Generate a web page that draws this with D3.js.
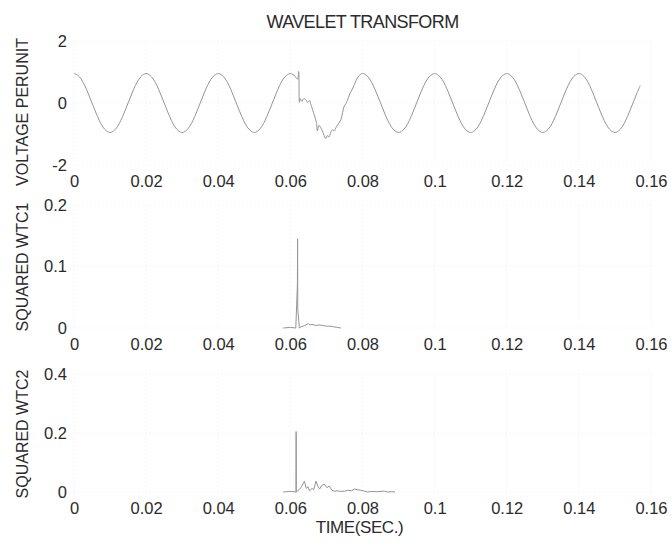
<!DOCTYPE html>
<html>
<head>
<meta charset="utf-8">
<script src="https://cdn.jsdelivr.net/npm/d3@7"></script>
<style>
body { margin: 0; background: #fff; }
text { font-family: "Liberation Sans", Arial, sans-serif; fill: #2b2b2b; }
</style>
</head>
<body>
<svg width="671" height="543"></svg>
<script>
// x ticks in milliseconds, labelled in seconds
var timeTicks = [0, 20, 40, 60, 80, 100, 120, 140, 160];
var timeTickLabels = ['0', '0.02', '0.04', '0.06', '0.08', '0.1', '0.12', '0.14', '0.16'];

var voltTicks = [-2, 0, 2];
var wtc1Ticks = [0, 0.1, 0.2];
var wtc2Ticks = [0, 0.2, 0.4];

// voltage sampled every 1 ms, 0..62 ms (before the disturbance)
var voltBefore = [
    0.95, 0.90, 0.77, 0.56, 0.29, 0.00, -0.29, -0.56, -0.77, -0.90, -0.95, -0.90, -0.77, -0.56, -0.29, 0.00, 0.29, 0.56, 0.77, 0.90,
    0.95, 0.90, 0.77, 0.56, 0.29, 0.00, -0.29, -0.56, -0.77, -0.90, -0.95, -0.90, -0.77, -0.56, -0.29, 0.00, 0.29, 0.56, 0.77, 0.90,
    0.95, 0.90, 0.77, 0.56, 0.29, 0.00, -0.29, -0.56, -0.77, -0.90, -0.95, -0.90, -0.77, -0.56, -0.29, 0.00, 0.29, 0.56, 0.77, 0.90,
    0.95, 0.90, 0.77
];
// disturbance, read point by point (ms, per unit)
var disturbTime = [62.3, 62.5, 62.7, 63.2, 63.7, 64.3, 64.8, 65.3, 65.7, 66.6, 67.2, 67.5, 67.9, 68.5, 69.2, 69.8, 70.3, 70.7,
    71.2, 71.7, 72.2, 72.6, 73.3, 74.0, 74.5, 74.9, 75.4, 75.8, 76.5, 77.2, 78.2, 79.0];
var disturbVolt = [1.02, 0.02, 0.15, 0.05, 0.14, 0.10, 0.02, 0.08, -0.05, -0.38, -0.62, -0.90, -0.72, -0.81, -1.00, -1.15, -1.05, -1.10,
    -0.95, -0.86, -0.90, -0.80, -0.68, -0.54, -0.30, -0.11, -0.02, 0.08, 0.30, 0.45, 0.72, 0.88];
// voltage sampled every 1 ms, 80..157 ms (after the disturbance)
var voltAfter = [
    0.95, 0.90, 0.77, 0.56, 0.29, 0.00, -0.29, -0.56, -0.77, -0.90, -0.95, -0.90, -0.77, -0.56, -0.29, 0.00, 0.29, 0.56, 0.77, 0.90,
    0.95, 0.90, 0.77, 0.56, 0.29, 0.00, -0.29, -0.56, -0.77, -0.90, -0.95, -0.90, -0.77, -0.56, -0.29, 0.00, 0.29, 0.56, 0.77, 0.90,
    0.95, 0.90, 0.77, 0.56, 0.29, 0.00, -0.29, -0.56, -0.77, -0.90, -0.95, -0.90, -0.77, -0.56, -0.29, 0.00, 0.29, 0.56, 0.77, 0.90,
    0.95, 0.90, 0.77, 0.56, 0.29, 0.00, -0.29, -0.56, -0.77, -0.90, -0.95, -0.90, -0.77, -0.56, -0.29, 0.00, 0.29, 0.56
];

// squared wavelet coefficients, level 1 (only the non-zero stretch)
var wtc1Time = [58, 60, 61.5, 61.95, 62.0, 62.05, 62.5, 63, 64, 64.6, 65, 65.5, 66, 67, 68, 69, 70, 71, 72, 73, 74];
var wtc1Value = [0, 0.001, 0, 0.07, 0.145, 0.03, 0, 0.002, 0.004, 0.006, 0.007, 0.005, 0.006, 0.004, 0.005, 0.004, 0.003, 0.003, 0.002, 0.001, 0];

// squared wavelet coefficients, level 2
var wtc2Time = [58, 60, 61, 61.55, 61.6, 61.65, 62, 62.6, 63.2, 63.9, 64.4, 64.9, 65.3, 66, 66.5, 67.1, 67.6, 68.1, 68.7, 69.4,
    70.1, 70.8, 71.5, 72.2, 73, 74, 75, 76, 77, 77.7, 78.5, 79.5, 80.5, 81.4, 82.5, 84, 86, 87, 88, 89];
var wtc2Value = [0, 0.002, 0.001, 0, 0.205, 0, 0.004, 0.01, 0.02, 0.037, 0.012, 0.018, 0.004, 0.012, 0.008, 0.037, 0.02, 0.01, 0.022, 0.027,
    0.015, 0.02, 0.006, 0.003, 0.004, 0.002, 0.003, 0.006, 0.004, 0.01, 0.008, 0.006, 0.003, 0, 0.002, 0.001, 0.003, 0, 0.001, 0];

var svg = d3.select('svg');

var x = d3.scaleLinear().domain([0, 160]).range([74, 651]);

var panels = [
    { top: 41, bottom: 165, domain: [-2, 2], ticks: voltTicks, label: 'VOLTAGE PERUNIT', labelY: 112 },
    { top: 205, bottom: 328, domain: [0, 0.2], ticks: wtc1Ticks, label: 'SQUARED WTC1', labelY: 267 },
    { top: 374, bottom: 492, domain: [0, 0.4], ticks: wtc2Ticks, label: 'SQUARED WTC2', labelY: 434 }
];

// build point lists
var voltPts = [];
voltBefore.forEach(function(v, i) { voltPts.push([i, v]); });
disturbTime.forEach(function(t, i) { voltPts.push([t, disturbVolt[i]]); });
voltAfter.forEach(function(v, i) { voltPts.push([80 + i, v]); });

var wtc1Pts = wtc1Time.map(function(t, i) { return [t, wtc1Value[i]]; });
var wtc2Pts = wtc2Time.map(function(t, i) { return [t, wtc2Value[i]]; });

var series = [voltPts, wtc1Pts, wtc2Pts];

panels.forEach(function(p, k) {
    var y = d3.scaleLinear().domain(p.domain).range([p.bottom, p.top]);
    var g = svg.append('g');

    // dotted grid, almost washed out like the scan
    g.selectAll('.vg').data(timeTicks).enter().append('line')
        .attr('x1', d => x(d)).attr('x2', d => x(d))
        .attr('y1', p.top).attr('y2', p.bottom)
        .attr('stroke', '#ededed').attr('stroke-dasharray', '1,3');
    g.selectAll('.hg').data(p.ticks).enter().append('line')
        .attr('x1', x(0)).attr('x2', x(160))
        .attr('y1', d => y(d)).attr('y2', d => y(d))
        .attr('stroke', '#ededed').attr('stroke-dasharray', '1,3');

    var yAxis = g.append('g')
        .attr('transform', 'translate(' + x(0) + ',0)')
        .call(d3.axisLeft(y).tickValues(p.ticks).tickSize(0).tickPadding(7)
            .tickFormat(function(d) { return String(d); }));
    var xAxis = g.append('g')
        .attr('transform', 'translate(0,' + p.bottom + ')')
        .call(d3.axisBottom(x).tickValues(timeTicks).tickSize(0).tickPadding(10)
            .tickFormat(function(d, i) { return timeTickLabels[i]; }));
    [yAxis, xAxis].forEach(function(a) {
        a.select('.domain').remove();
        a.selectAll('text').style('font-size', '16.5px').style('fill', '#2b2b2b')
            .style('font-family', '"Liberation Sans", Arial, sans-serif');
    });

    svg.append('text')
        .attr('transform', 'translate(22,' + p.labelY + ') rotate(-90)')
        .attr('text-anchor', 'middle')
        .attr('dy', '0.35em')
        .style('font-size', '16px')
        .text(p.label);

    var line = d3.line()
        .x(d => x(d[0]))
        .y(d => y(d[1]))
        .curve(k === 0 ? d3.curveCatmullRom.alpha(0.5) : d3.curveLinear);

    g.append('path')
        .datum(series[k])
        .attr('d', line)
        .attr('fill', 'none')
        .attr('stroke', '#959595')
        .attr('stroke-width', 1);
});

svg.append('text')
    .attr('x', x(80)).attr('y', 28)
    .attr('text-anchor', 'middle')
    .style('font-size', '18px')
    .style('letter-spacing', '-0.6px')
    .text('WAVELET TRANSFORM');

svg.append('text')
    .attr('x', x(80) - 3).attr('y', 533)
    .attr('text-anchor', 'middle')
    .style('font-size', '17px')
    .style('letter-spacing', '-0.4px')
    .text('TIME(SEC.)');
</script>
</body>
</html>
